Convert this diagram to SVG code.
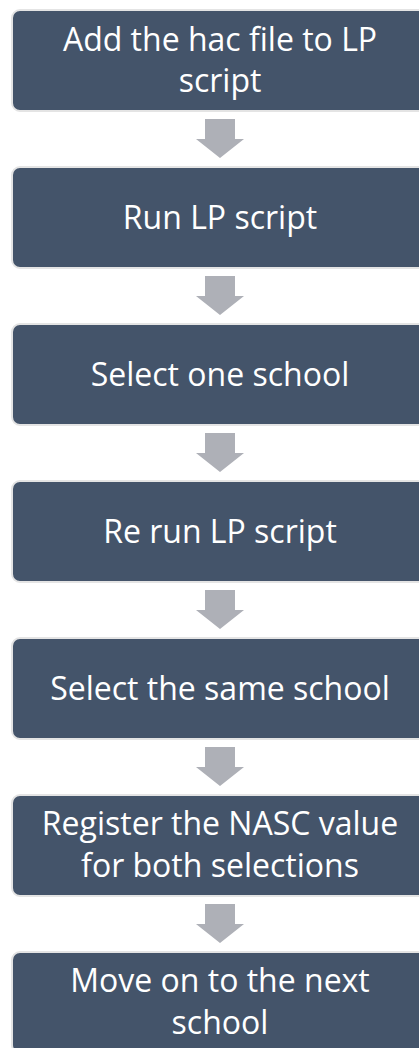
<svg xmlns="http://www.w3.org/2000/svg" width="419" height="1048" viewBox="0 0 419 1048">
  <defs>
    <style>
      .box { fill: #44546A; stroke: #E4E4E4; stroke-width: 2; }
      .lbl { font-family: "Open Sans", "Noto Sans", "Liberation Sans", sans-serif; font-size: 32px; fill: #FFFFFF; text-anchor: middle; }
      .arr { fill: #AEB0B7; }
    </style>
    <path id="arrow" class="arr" d="M205,0 H235 V20 H244 L220,39 L196,20 H205 Z"/>
  </defs>
  <rect width="419" height="1048" fill="#FFFFFF"/>
  <g id="connectors">
    <use href="#arrow" y="119"/>
    <use href="#arrow" y="276"/>
    <use href="#arrow" y="433"/>
    <use href="#arrow" y="590"/>
    <use href="#arrow" y="747"/>
    <use href="#arrow" y="904"/>
  </g>
  <g id="node1">
    <rect class="box" x="12" y="10" width="416" height="101" rx="8"/>
    <text class="lbl" x="220" y="51">Add the hac file to LP</text>
    <text class="lbl" x="220" y="92">script</text>
  </g>
  <g id="node2">
    <rect class="box" x="12" y="167" width="416" height="101" rx="8"/>
    <text class="lbl" x="220" y="229">Run LP script</text>
  </g>
  <g id="node3">
    <rect class="box" x="12" y="324" width="416" height="101" rx="8"/>
    <text class="lbl" x="220" y="386">Select one school</text>
  </g>
  <g id="node4">
    <rect class="box" x="12" y="481" width="416" height="101" rx="8"/>
    <text class="lbl" x="220" y="543">Re run LP script</text>
  </g>
  <g id="node5">
    <rect class="box" x="12" y="638" width="416" height="101" rx="8"/>
    <text class="lbl" x="220" y="700">Select the same school</text>
  </g>
  <g id="node6">
    <rect class="box" x="12" y="795" width="416" height="101" rx="8"/>
    <text class="lbl" x="220" y="835">Register the NASC value</text>
    <text class="lbl" x="220" y="877">for both selections</text>
  </g>
  <g id="node7">
    <rect class="box" x="12" y="952" width="416" height="101" rx="8"/>
    <text class="lbl" x="220" y="992">Move on to the next</text>
    <text class="lbl" x="220" y="1034">school</text>
  </g>
</svg>
